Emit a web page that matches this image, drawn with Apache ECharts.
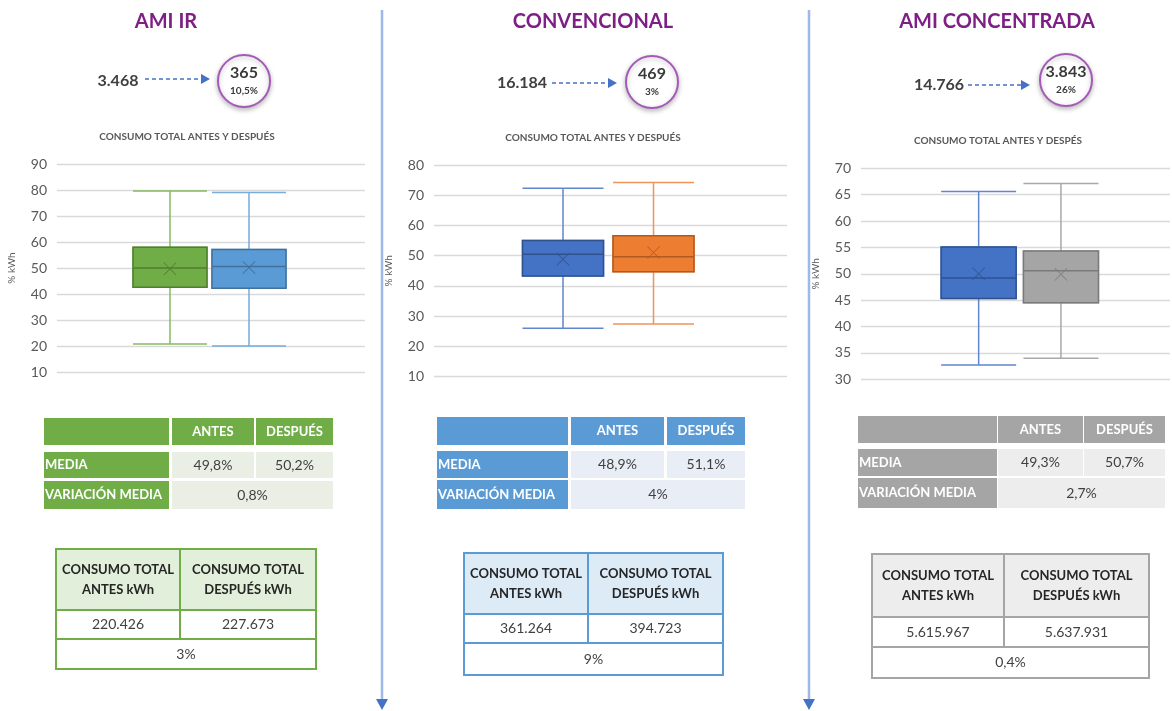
<!DOCTYPE html>
<html>
<head>
<meta charset="utf-8">
<script src="https://cdn.jsdelivr.net/npm/echarts@6/dist/echarts.min.js"></script>
<style>
html, body { margin: 0; padding: 0; background: #fff; }
#main { width: 1172px; height: 711px; }
</style>
</head>
<body>
<div id="main"></div>
<script>
// datos
const panelTitles = ['AMI IR', 'CONVENCIONAL', 'AMI CONCENTRADA'];
const subTitles = ['CONSUMO TOTAL ANTES Y DESPUÉS', 'CONSUMO TOTAL ANTES Y DESPUÉS', 'CONSUMO TOTAL ANTES Y DESPÉS'];
const clientesAntes = ['3.468', '16.184', '14.766'];
const clientesDespues = ['365', '469', '3.843'];
const clientesPct = ['10,5%', '3%', '26%'];

const boxCategories = ['ANTES', 'DESPUÉS'];
// [min, Q1, mediana, Q3, max]
const amiIrBox = [[20.8, 42.6, 50.0, 58.0, 79.6], [20.0, 42.2, 50.6, 57.1, 79.0]];
const convBox = [[26.0, 43.3, 50.5, 55.0, 72.3], [27.4, 44.7, 49.6, 56.6, 74.2]];
const amiConcBox = [[32.7, 45.3, 49.2, 55.1, 65.6], [34.0, 44.5, 50.6, 54.3, 67.1]];
// media (marca X)
const amiIrMean = [49.7, 50.2];
const convMean = [48.8, 51.0];
const amiConcMean = [50.0, 49.9];

const yMin = [10, 10, 30];
const yMax = [90, 80, 70];
const yStep = [10, 10, 5];

const mediaHeaders = ['', 'ANTES', 'DESPUÉS'];
const mediaLabels = ['MEDIA', 'VARIACIÓN MEDIA'];
const mediaValues = [['49,8%', '50,2%'], ['48,9%', '51,1%'], ['49,3%', '50,7%']];
const mediaVariacion = ['0,8%', '4%', '2,7%'];

const totalHeaders = ['CONSUMO TOTAL\nANTES kWh', 'CONSUMO TOTAL\nDESPUÉS kWh'];
const totalAntes = ['220.426', '361.264', '5.615.967'];
const totalDespues = ['227.673', '394.723', '5.637.931'];
const totalVariacion = ['3%', '9%', '0,4%'];

const boxData = [amiIrBox, convBox, amiConcBox];
const meanData = [amiIrMean, convMean, amiConcMean];

// posiciones y estilos
const FONT = 'Lato, "Noto Sans", sans-serif';
const layout = [
    {
        titleX: 166, countX: 118, countY: 81, arrow: [145, 210, 79], circle: [244, 81], subX: 187, subY: 137,
        axisGrid: { left: 57, top: 164, width: 308, height: 208 }, boxGrid: { left: 130.5, width: 158 }, boxWidth: 74,
        t1: { cols: [[44, 169], [172, 254], [256, 333]], rows: [[418, 445], [452, 478], [481, 509]] },
        t2: { cols: [56, 180, 316], rows: [549, 610, 639, 669] },
        fills: ['#70AD47', '#5B9BD5'], borders: ['#507E32', '#41719C'], whisk: ['#86BA63', '#78ACDB'], marks: ['#4E7A32', '#3F6E9A'],
        dark: '#70AD47', light: '#E9EFE5', head2: '#E2EFDA'
    },
    {
        titleX: 593, countX: 522, countY: 83, arrow: [552, 617, 83], circle: [652, 82], subX: 593, subY: 138,
        axisGrid: { left: 434, top: 165, width: 353, height: 211.5 }, boxGrid: { left: 517.75, width: 181 }, boxWidth: 81,
        t1: { cols: [[437, 568], [571, 664], [667, 745]], rows: [[417, 445], [451, 478], [480, 509]] },
        t2: { cols: [464, 588, 723], rows: [553, 614, 643, 675] },
        fills: ['#4472C4', '#ED7D31'], borders: ['#2F528F', '#AE5A21'], whisk: ['#5F87CD', '#EE955C'], marks: ['#2F528F', '#B05C22'],
        dark: '#5B9BD5', light: '#E8EDF6', head2: '#DDEBF7'
    },
    {
        titleX: 997, countX: 939, countY: 85, arrow: [968, 1030, 85], circle: [1066, 80], subX: 998, subY: 141,
        axisGrid: { left: 861, top: 168.3, width: 309, height: 211 }, boxGrid: { left: 937.5, width: 164.6 }, boxWidth: 75,
        t1: { cols: [[858, 997], [998, 1083], [1084, 1165]], rows: [[416, 443], [449, 476], [478, 508]] },
        t2: { cols: [872, 1004, 1149], rows: [554, 617, 647, 678] },
        fills: ['#4472C4', '#A5A5A5'], borders: ['#2F528F', '#7A7A7A'], whisk: ['#5F87CD', '#A9A9A9'], marks: ['#2F528F', '#7A7A7A'],
        dark: '#A5A5A5', light: '#EDEDED', head2: '#EDEDED'
    }
];
const separators = [382, 809];

const xMark = 'path://M1,0L10,9L19,0L20,1L11,10L20,19L19,20L10,11L1,20L0,19L9,10L0,1Z';

function txt(text, x, y, opt) {
    return {
        type: 'text', silent: true, z: 10,
        style: Object.assign({
            text: text, x: x, y: y, align: 'center', verticalAlign: 'middle',
            fill: '#404040', fontFamily: FONT, fontSize: 13
        }, opt || {})
    };
}
function rect(x, y, w, h, fill, stroke, lw) {
    return {
        type: 'rect', silent: true, z: 5,
        shape: { x: x, y: y, width: w, height: h },
        style: { fill: fill || 'none', stroke: stroke || null, lineWidth: lw || 0 }
    };
}
function line(x1, y1, x2, y2, stroke, lw) {
    return {
        type: 'line', silent: true, z: 6,
        shape: { x1: x1, y1: y1, x2: x2, y2: y2 },
        style: { stroke: stroke, lineWidth: lw }
    };
}

const grids = [], xAxes = [], yAxes = [], series = [], graphics = [];

layout.forEach(function (p, i) {
    const g = p.axisGrid;
    grids.push({ left: g.left, top: g.top, width: g.width, height: g.height, containLabel: false, outerBoundsMode: 'none' });
    grids.push({ left: p.boxGrid.left, top: g.top, width: p.boxGrid.width, height: g.height, containLabel: false, outerBoundsMode: 'none' });

    xAxes.push({ gridIndex: 2 * i, type: 'category', data: [''], show: false });
    xAxes.push({ gridIndex: 2 * i + 1, type: 'category', data: boxCategories, show: false });
    xAxes.push({ gridIndex: 2 * i + 1, type: 'category', data: boxCategories, show: false, position: 'top' });

    yAxes.push({
        gridIndex: 2 * i, type: 'value', min: yMin[i], max: yMax[i], interval: yStep[i],
        name: '% kWh', nameLocation: 'middle', nameGap: 40,
        nameTextStyle: { color: '#595959', fontSize: 10, fontFamily: FONT },
        axisLine: { show: false }, axisTick: { show: false },
        axisLabel: { color: '#595959', fontSize: 14, fontFamily: FONT, margin: 10 },
        splitLine: { lineStyle: { color: '#D9D9D9', width: 1.3 } }
    });
    yAxes.push({ gridIndex: 2 * i + 1, type: 'value', min: yMin[i], max: yMax[i], show: false });

    // bigotes (color claro)
    series.push({
        type: 'boxplot', xAxisIndex: 3 * i + 1, yAxisIndex: 2 * i + 1,
        boxWidth: [p.boxWidth, p.boxWidth], silent: true, z: 2,
        itemStyle: { borderWidth: 1.5 },
        data: boxData[i].map(function (v, k) {
            return { value: v, itemStyle: { color: p.fills[k], borderColor: p.whisk[k] } };
        })
    });
    // caja y mediana (borde oscuro), en otro eje para que no se desplace
    series.push({
        type: 'boxplot', xAxisIndex: 3 * i + 2, yAxisIndex: 2 * i + 1,
        boxWidth: [p.boxWidth, p.boxWidth], silent: true, z: 3,
        itemStyle: { borderWidth: 1.5 },
        data: boxData[i].map(function (v, k) {
            return { value: [v[1], v[1], v[2], v[3], v[3]], itemStyle: { color: p.fills[k], borderColor: p.borders[k] } };
        })
    });
    series.push({
        type: 'scatter', xAxisIndex: 3 * i + 1, yAxisIndex: 2 * i + 1,
        symbol: xMark, symbolSize: 13, silent: true, z: 5,
        data: meanData[i].map(function (m, k) {
            return { value: [k, m], itemStyle: { color: p.marks[k], opacity: 0.8 } };
        })
    });

    // cabecera
    graphics.push(txt(panelTitles[i], p.titleX, 22, { fill: '#7E1F86', fontSize: 20, fontWeight: 'bold' }));
    graphics.push(txt(clientesAntes[i], p.countX, p.countY, { fontSize: 16, fontWeight: 'bold' }));
    const a = p.arrow;
    graphics.push({
        type: 'line', silent: true, z: 6,
        shape: { x1: a[0], y1: a[2], x2: a[1] - 8, y2: a[2] },
        style: { stroke: '#4472C4', lineWidth: 1.6, lineDash: [4, 3] }
    });
    graphics.push({
        type: 'polygon', silent: true, z: 6,
        shape: { points: [[a[1] - 9, a[2] - 5], [a[1], a[2]], [a[1] - 9, a[2] + 5]] },
        style: { fill: '#4472C4' }
    });
    graphics.push({
        type: 'circle', silent: true, z: 6,
        shape: { cx: p.circle[0], cy: p.circle[1], r: 26 },
        style: { fill: '#fff', stroke: '#A45AB8', lineWidth: 2, shadowBlur: 5, shadowColor: 'rgba(0,0,0,0.25)', shadowOffsetY: 2 }
    });
    graphics.push(txt(clientesDespues[i], p.circle[0], p.circle[1] - 8, { fontSize: 16, fontWeight: 'bold', fill: '#3A3A3A' }));
    graphics.push(txt(clientesPct[i], p.circle[0], p.circle[1] + 10, { fontSize: 10, fontWeight: 'bold', fill: '#3A3A3A' }));
    graphics.push(txt(subTitles[i], p.subX, p.subY, { fontSize: 10, fontWeight: 'bold', fill: '#595959' }));

    // tabla de medias
    const c = p.t1.cols, r = p.t1.rows;
    c.forEach(function (col, k) {
        graphics.push(rect(col[0], r[0][0], col[1] - col[0], r[0][1] - r[0][0], p.dark));
        if (mediaHeaders[k]) {
            graphics.push(txt(mediaHeaders[k], (col[0] + col[1]) / 2, (r[0][0] + r[0][1]) / 2, { fill: '#fff', fontWeight: 'bold' }));
        }
    });
    [1, 2].forEach(function (ri) {
        const y0 = r[ri][0], h = r[ri][1] - r[ri][0], ym = (r[ri][0] + r[ri][1]) / 2;
        graphics.push(rect(c[0][0], y0, c[0][1] - c[0][0], h, p.dark));
        graphics.push(txt(mediaLabels[ri - 1], c[0][0] + 1, ym, { fill: '#fff', fontWeight: 'bold', align: 'left' }));
        if (ri === 1) {
            [1, 2].forEach(function (k) {
                graphics.push(rect(c[k][0], y0, c[k][1] - c[k][0], h, p.light));
                graphics.push(txt(mediaValues[i][k - 1], (c[k][0] + c[k][1]) / 2, ym, { fontSize: 14 }));
            });
        } else {
            graphics.push(rect(c[1][0], y0, c[2][1] - c[1][0], h, p.light));
            graphics.push(txt(mediaVariacion[i], (c[1][0] + c[2][1]) / 2, ym, { fontSize: 14 }));
        }
    });

    // tabla de consumo total
    const xc = p.t2.cols, yr = p.t2.rows;
    graphics.push(rect(xc[0], yr[0], xc[2] - xc[0], yr[1] - yr[0], p.head2));
    graphics.push(rect(xc[0], yr[0], xc[2] - xc[0], yr[3] - yr[0], null, p.dark, 2));
    graphics.push(line(xc[0], yr[1], xc[2], yr[1], p.dark, 2));
    graphics.push(line(xc[0], yr[2], xc[2], yr[2], p.dark, 2));
    graphics.push(line(xc[1], yr[0], xc[1], yr[2], p.dark, 2));
    graphics.push(txt(totalHeaders[0], (xc[0] + xc[1]) / 2, (yr[0] + yr[1]) / 2, { fontWeight: 'bold', fill: '#262626', lineHeight: 20 }));
    graphics.push(txt(totalHeaders[1], (xc[1] + xc[2]) / 2, (yr[0] + yr[1]) / 2, { fontWeight: 'bold', fill: '#262626', lineHeight: 20 }));
    graphics.push(txt(totalAntes[i], (xc[0] + xc[1]) / 2, (yr[1] + yr[2]) / 2, { fontSize: 14 }));
    graphics.push(txt(totalDespues[i], (xc[1] + xc[2]) / 2, (yr[1] + yr[2]) / 2, { fontSize: 14 }));
    graphics.push(txt(totalVariacion[i], (xc[0] + xc[2]) / 2, (yr[2] + yr[3]) / 2, { fontSize: 14 }));
});

// separadores verticales
separators.forEach(function (x) {
    graphics.push(line(x, 10, x, 700, '#9DB9E8', 2.5));
    graphics.push({
        type: 'polygon', silent: true, z: 6,
        shape: { points: [[x - 6, 699], [x + 6, 699], [x, 710]] },
        style: { fill: '#4472C4' }
    });
});

const myChart = echarts.init(document.getElementById('main'));
const option = {
    animation: false,
    backgroundColor: '#fff',
    grid: grids,
    xAxis: xAxes,
    yAxis: yAxes,
    series: series,
    graphic: { elements: graphics }
};
myChart.setOption(option);
</script>
</body>
</html>
